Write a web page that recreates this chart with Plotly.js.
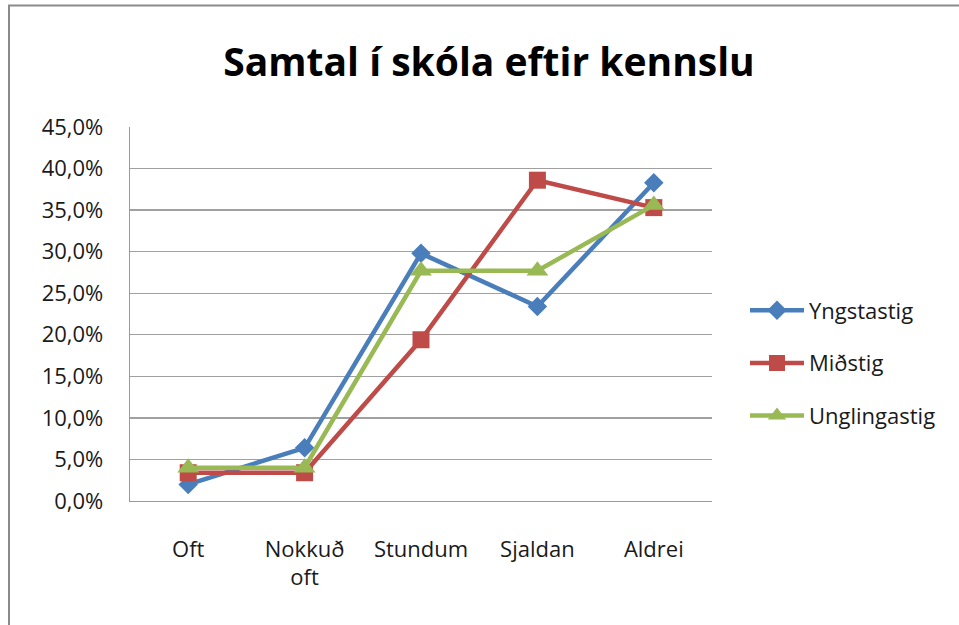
<!DOCTYPE html>
<html>
<head>
<meta charset="utf-8">
<script src="https://cdn.plot.ly/plotly-3.0.1.min.js"></script>
<style>html,body{margin:0;padding:0;background:#fff;}#chart{width:959px;height:625px;}</style>
</head>
<body>
<div id="chart"></div>
<script>
var categories = ['Oft', 'Nokkuð<br>oft', 'Stundum', 'Sjaldan', 'Aldrei'];
var seriesNames = ['Yngstastig', 'Miðstig', 'Unglingastig'];
var yngstastig = [0.020, 0.064, 0.298, 0.234, 0.383];
var midstig = [0.034, 0.034, 0.194, 0.386, 0.353];
var unglingastig = [0.040, 0.040, 0.277, 0.277, 0.356];
var yTicks = [0, 0.05, 0.10, 0.15, 0.20, 0.25, 0.30, 0.35, 0.40, 0.45];

var colors = ['#4A7EBB', '#BE4B48', '#98B954'];
var symbols = ['diamond', 'square', 'triangle-up'];
var sizes = [15, 17, 19];
var values = [yngstastig, midstig, unglingastig];

var traces = values.map(function (v, i) {
  return {
    type: 'scatter',
    mode: 'lines+markers',
    x: categories,
    y: v,
    name: seriesNames[i],
    legendgroup: 'g' + i,
    line: {color: colors[i], width: 4.5},
    marker: {symbol: symbols[i], size: sizes[i], color: colors[i]}
  };
});

function px2x(px) { return (px - 130) / 582; }
function px2y(py) { return (501 - py) / 374; }

var layout = {
  width: 959,
  height: 625,
  margin: {l: 130, r: 247, t: 127, b: 124},
  paper_bgcolor: '#ffffff',
  plot_bgcolor: '#ffffff',
  separators: ',.',
  showlegend: true,
  title: {
    text: 'Samtal í skóla eftir kennslu',
    font: {family: 'Open Sans', size: 39, color: '#000000', weight: 'bold'},
    x: 489 / 959,
    xanchor: 'center',
    xref: 'container',
    y: 1 - 62 / 625,
    yanchor: 'middle',
    yref: 'container'
  },
  font: {family: 'Open Sans', size: 22, color: '#1a1a1a'},
  xaxis: {
    type: 'category',
    range: [-0.5, 4.5],
    showgrid: false,
    showline: true,
    linecolor: '#9a9a9a',
    linewidth: 1.3,
    ticks: 'outside',
    ticklen: 28,
    tickcolor: 'rgba(0,0,0,0)',
    tickfont: {family: 'Open Sans', size: 22, color: '#1a1a1a'},
    zeroline: false,
    fixedrange: true
  },
  yaxis: {
    range: [0, 0.45],
    tickvals: yTicks,
    tickformat: '.1%',
    showgrid: true,
    gridcolor: '#a0a0a0',
    gridwidth: 1.3,
    showline: true,
    linecolor: '#9a9a9a',
    linewidth: 1.3,
    ticks: 'outside',
    ticklen: 21,
    tickcolor: 'rgba(0,0,0,0)',
    tickfont: {family: 'Open Sans', size: 22, color: '#1a1a1a'},
    zeroline: false,
    fixedrange: true
  },
  legend: {
    x: px2x(745),
    xanchor: 'left',
    y: px2y(363),
    yanchor: 'middle',
    traceorder: 'grouped',
    tracegroupgap: 21,
    itemwidth: 54,
    font: {family: 'Open Sans', size: 22, color: '#1a1a1a'},
    bgcolor: 'rgba(0,0,0,0)'
  },
  shapes: [
    {type: 'line', xref: 'paper', yref: 'paper', x0: px2x(9), x1: px2x(9), y0: px2y(5), y1: px2y(625), line: {color: '#8a8a8a', width: 2}},
    {type: 'line', xref: 'paper', yref: 'paper', x0: px2x(8), x1: px2x(959), y0: px2y(5.5), y1: px2y(5.5), line: {color: '#8a8a8a', width: 2}}
  ]
};

Plotly.newPlot('chart', traces, layout, {displayModeBar: false, staticPlot: true});
</script>
</body>
</html>
